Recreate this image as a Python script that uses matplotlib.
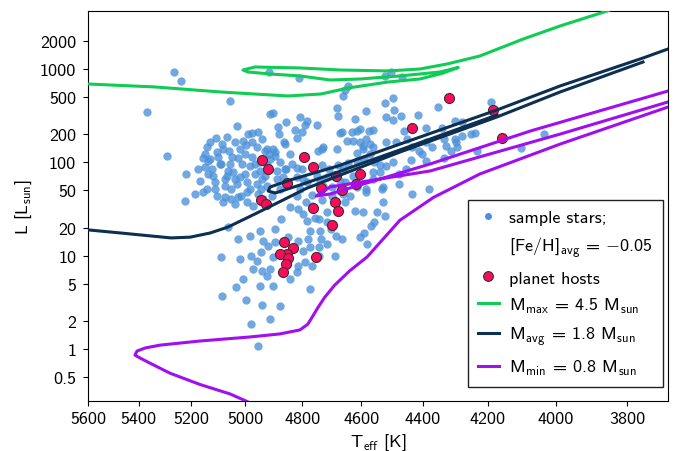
import numpy as np
import matplotlib
matplotlib.use('Agg')
import matplotlib.pyplot as plt
from matplotlib.lines import Line2D
from matplotlib.ticker import NullLocator

# sample stars: Teff [K] and log10(L/Lsun)
star_teff = [
    5264, 5237, 5367, 5056, 4916, 4812, 4662, 4646, 4656, 4682,
    4586, 4521, 4502, 4466, 4521, 4498, 4492, 4518, 4470, 4415,
    4352, 4191, 4913, 4902, 4808, 4679, 4622, 4498, 4300, 4279,
    4251, 4239, 4279, 4300, 4390, 4460, 4340, 4034, 4101, 5290,
    5218, 5222, 5030, 4977, 4955, 4885, 4857, 4784, 4750, 4791,
    4826, 4882, 4819, 5107, 5129, 5140, 5067, 5038, 5009, 4998,
    4977, 4959, 4930, 4902, 4916, 4895, 5081, 5103, 5060, 5002,
    4977, 5026, 5136, 5147, 5092, 5056, 5012, 4984, 4948, 4923,
    4878, 4857, 5118, 5067, 5045, 5002, 4966, 4930, 4888, 4888,
    4995, 5030, 5074, 5111, 5140, 4959, 4923, 4878, 5103, 5074,
    5026, 4995, 4955, 4906, 5081, 5038, 4995, 4973, 5155, 4819,
    4801, 4819, 4798, 4784, 4716, 4740, 4672, 4819, 4767, 4733,
    4767, 4699, 4747, 4730, 4801, 5111, 5136, 5052, 4944, 5038,
    5074, 4966, 5089, 5174, 5052, 5016, 5019, 4941, 4991, 5049,
    4948, 4913, 4861, 4843, 4836, 4868, 4941, 4984, 5019, 5063,
    5100, 5122, 5085, 5147, 5166, 5185, 4937, 4923, 4895, 4864,
    5129, 4733, 4665, 4632, 4616, 4606, 4576, 4563, 4649, 4629,
    4606, 4583, 4573, 4596, 4563, 4616, 4573, 4518, 4486, 4450,
    4434, 4403, 4371, 4390, 4328, 4312, 4861, 4733, 4709, 4679,
    4646, 4613, 4590, 4557, 4540, 4518, 4498, 4476, 4454, 4563,
    4629, 4656, 4672, 4750, 4808, 4730, 4586, 4530, 4476, 4434,
    4381, 4672, 4596, 4412, 4334, 4297, 4294, 4233, 4437, 4390,
    4334, 4533, 4682, 4788, 4784, 4757, 4716, 4656, 4622, 4596,
    4550, 4530, 4567, 4590, 4606, 4557, 4665, 4689, 4716, 4740,
    4774, 4798, 4767, 4774, 4791, 4580, 4521, 4583, 4639, 4662,
    4616, 4563, 4540, 4662, 4875, 4895, 4948, 4984, 5026, 5063,
    4815, 4702, 4686, 4737, 4781, 4743, 4815, 4850, 4895, 4920,
    4944, 4902, 4980, 5089, 4743, 4743, 4716, 5019, 4937, 4959,
    4973, 4941, 5009, 4913, 4923, 4948, 4902, 4843, 4819, 4815,
    4774, 4798, 4843, 4699, 5155, 5085, 4998, 4941, 4878, 4980,
    4913, 4955, 5035,
]
star_logl = [
    2.97, 2.87, 2.54, 2.66, 2.97, 2.90, 2.71, 2.82, 2.78, 2.58,
    2.55, 2.93, 2.97, 2.92, 2.64, 2.69, 2.56, 2.49, 2.50, 2.51,
    2.59, 2.65, 2.52, 2.53, 2.49, 2.50, 2.47, 2.45, 2.44, 2.43,
    2.30, 2.32, 2.28, 2.25, 2.37, 2.34, 2.37, 2.30, 2.15, 2.07,
    1.88, 1.59, 2.39, 2.32, 2.33, 2.38, 2.43, 2.44, 2.40, 2.40,
    2.35, 2.30, 2.26, 2.26, 2.22, 2.17, 2.27, 2.22, 2.23, 2.19,
    2.22, 2.17, 2.12, 2.14, 2.09, 2.07, 2.14, 2.11, 2.12, 2.09,
    2.06, 2.05, 2.01, 1.95, 1.98, 1.98, 1.98, 1.96, 2.00, 1.97,
    2.00, 1.93, 1.85, 1.85, 1.90, 1.88, 1.88, 1.85, 1.82, 1.91,
    1.79, 1.77, 1.75, 1.71, 1.71, 1.77, 1.75, 1.71, 1.64, 1.63,
    1.63, 1.68, 1.66, 1.64, 1.58, 1.55, 1.58, 1.53, 2.05, 1.94,
    1.93, 1.84, 1.82, 1.79, 1.84, 1.80, 1.80, 1.64, 1.65, 1.60,
    1.53, 1.64, 2.12, 2.17, 2.33, 1.79, 1.88, 1.71, 1.71, 1.82,
    1.82, 1.98, 1.98, 1.93, 1.61, 1.64, 2.14, 2.25, 2.30, 2.06,
    1.91, 2.04, 2.20, 2.09, 1.98, 1.84, 1.82, 1.71, 1.84, 1.91,
    2.06, 1.93, 2.20, 2.09, 1.80, 1.66, 1.61, 2.14, 2.11, 2.22,
    2.04, 2.14, 2.33, 2.33, 2.34, 2.36, 2.34, 2.35, 2.23, 2.23,
    2.22, 2.25, 2.20, 2.14, 2.17, 2.10, 2.09, 2.22, 2.22, 2.25,
    2.17, 2.09, 2.17, 2.22, 2.18, 2.12, 1.93, 1.97, 1.93, 1.97,
    1.99, 2.01, 2.04, 2.00, 1.97, 1.96, 2.00, 1.88, 1.93, 1.90,
    1.85, 1.79, 1.69, 1.85, 1.71, 1.75, 1.71, 1.74, 1.77, 1.66,
    1.71, 2.32, 2.18, 2.12, 2.25, 2.22, 2.17, 2.12, 2.03, 2.01,
    2.05, 1.71, 2.14, 1.58, 1.37, 1.40, 1.47, 1.58, 1.48, 1.47,
    1.47, 1.58, 1.32, 1.24, 1.20, 1.36, 1.18, 1.00, 1.13, 1.26,
    1.09, 1.05, 0.89, 0.64, 0.93, 1.13, 1.43, 1.68, 1.64, 1.66,
    1.74, 1.82, 1.90, 1.93, 1.39, 1.29, 1.26, 1.21, 1.18, 1.31,
    1.50, 1.29, 1.21, 1.18, 1.18, 1.09, 1.16, 1.20, 1.15, 1.10,
    1.04, 0.99, 1.00, 0.99, 1.00, 1.39, 1.36, 0.96, 1.16, 0.94,
    0.86, 0.84, 0.75, 0.86, 0.78, 0.68, 0.68, 0.75, 0.83, 0.89,
    1.26, 1.45, 1.52, 1.74, 1.68, 0.57, 0.53, 0.47, 0.46, 0.27,
    0.32, 0.03, 0.66,
]

# planet hosts
host_teff = [4318, 4434, 4158, 4185, 4941, 4794, 4920, 4764, 4603, 4686,
             4619, 4737, 4665, 4853, 4944, 4927, 4764, 4689, 4679, 4699,
             4864, 4833, 4853, 4878, 4850, 4857, 4868, 4753]
host_logl = [2.69, 2.37, 2.26, 2.56, 2.03, 2.06, 1.93, 1.95, 1.88, 1.85,
             1.77, 1.73, 1.70, 1.78, 1.60, 1.55, 1.51, 1.58, 1.48, 1.33,
             1.15, 1.08, 1.02, 1.02, 0.98, 0.91, 0.83, 0.99]

# evolutionary tracks
trk_max_teff = [5600, 5336, 5089, 4850, 4735, 4644, 4512, 4410, 4340, 4290,
                4347, 4474, 4604, 4705, 4807, 4912, 4991, 5009, 4966, 4807,
                4671, 4512, 4410, 4325, 4224, 4094, 3987, 3854, 3819]
trk_max_l = [692, 643, 568, 515, 541, 627, 727, 783, 900, 1040,
             931, 844, 783, 764, 844, 886, 931, 978, 1053, 1028,
             978, 955, 1002, 1134, 1381, 2101, 2897, 4195, 4745]

trk_avg_rgb_teff = [5600, 5469, 5355, 5275, 5203, 5129, 5063, 4966, 4873, 4790,
                    4678, 4474, 4172, 3987, 3756]
trk_avg_rgb_l = [18.9, 17.5, 16.3, 15.5, 15.8, 17.5, 20.3, 28.0, 38.6, 51.9,
                 71.5, 129, 307, 568, 1191]
trk_avg_hb_teff = [4172, 4474, 4678, 4807, 4894, 4919, 4912, 4842, 4678, 4474,
                   4172, 3987, 3756, 3689]
trk_avg_hb_l = [322, 136, 78.9, 57.3, 47.0, 49.3, 54.5, 64.7, 91.5, 157,
                365, 659, 1315, 1642]

trk_min_rgb_teff = [4990, 5056, 5166, 5279, 5355, 5394, 5414, 5406, 5374, 5317,
                    5166, 4984, 4878, 4808, 4781, 4764, 4747, 4723, 4689, 4639,
                    4581, 4474, 4368, 4224, 3987, 3689]
trk_min_rgb_l = [0.27, 0.330, 0.416, 0.55, 0.703, 0.80, 0.86, 0.95, 1.026, 1.10,
                 1.218, 1.345, 1.45, 1.60, 1.84, 2.24, 2.75, 3.58, 4.84, 6.87,
                 9.7, 24.0, 42.0, 75.1, 157, 392]
trk_min_hb_teff = [3689, 3987, 4378, 4705, 4752, 4705, 4378, 4073, 3689]
trk_min_hb_l = [444, 201, 80.9, 54.5, 43.6, 45.8, 96.1, 217, 582]

xticks = [5600, 5400, 5200, 5000, 4800, 4600, 4400, 4200, 4000, 3800]
yticks = [0.5, 1, 2, 5, 10, 20, 50, 100, 200, 500, 1000, 2000]
ytick_labels = ['0.5', '1', '2', '5', '10', '20', '50', '100', '200', '500', '1000', '2000']

c_star = '#4a90d9'
c_host = '#ff0a5a'
c_max = '#0fcc55'
c_avg = '#0c2f52'
c_min = '#a00ff0'

plt.rcParams['font.family'] = 'cmss10'
plt.rcParams['mathtext.fontset'] = 'custom'
plt.rcParams['mathtext.rm'] = 'cmss10'
plt.rcParams['mathtext.it'] = 'cmss10'
plt.rcParams['mathtext.bf'] = 'cmss10'
plt.rcParams['axes.unicode_minus'] = False
plt.rcParams['font.size'] = 13

fig = plt.figure(figsize=(6.76, 4.52), dpi=100)
ax = fig.add_axes([0.1302, 0.1106, 0.858, 0.8629])
ax.set_xscale('log')
ax.set_yscale('log')

ax.scatter(star_teff, 10 ** np.array(star_logl), s=36, color=c_star, alpha=0.78,
           linewidths=0, zorder=2)
ax.scatter(host_teff, 10 ** np.array(host_logl), s=52, color=c_host,
           edgecolors='#333333', linewidths=0.8, zorder=3)

lw = 2.2
ax.plot(trk_max_teff, trk_max_l, color=c_max, lw=lw, zorder=4)
ax.plot(trk_avg_rgb_teff, trk_avg_rgb_l, color=c_avg, lw=lw, zorder=4)
ax.plot(trk_avg_hb_teff, trk_avg_hb_l, color=c_avg, lw=lw, zorder=4)
ax.plot(trk_min_rgb_teff, trk_min_rgb_l, color=c_min, lw=lw, zorder=4)
ax.plot(trk_min_hb_teff, trk_min_hb_l, color=c_min, lw=lw, zorder=4)

ax.set_xlim(5600, 3689)
ax.set_ylim(0.277, 4195)
ax.set_xticks(xticks)
ax.set_xticklabels([str(t) for t in xticks])
ax.set_yticks(yticks)
ax.set_yticklabels(ytick_labels)
ax.xaxis.set_minor_locator(NullLocator())
ax.yaxis.set_minor_locator(NullLocator())
ax.tick_params(axis='y', pad=5)

ax.set_xlabel(r'T$_\mathrm{eff}$ [K]')
ax.set_ylabel(r'L [L$_\mathrm{sun}$]')

handles = [
    Line2D([], [], ls='none', marker='o', ms=5, color=c_star, mew=0),
    Line2D([], [], ls='none'),
    Line2D([], [], ls='none', marker='o', ms=7, color=c_host, mec='#333333', mew=0.8),
    Line2D([], [], color=c_max, lw=lw),
    Line2D([], [], color=c_avg, lw=lw),
    Line2D([], [], color=c_min, lw=lw),
]
labels = [
    'sample stars;',
    r'[Fe/H]$_\mathrm{avg}$ = $-$0.05',
    'planet hosts',
    r'M$_\mathrm{max}$ = 4.5 M$_\mathrm{sun}$',
    r'M$_\mathrm{avg}$ = 1.8 M$_\mathrm{sun}$',
    r'M$_\mathrm{min}$ = 0.8 M$_\mathrm{sun}$',
]
leg = ax.legend(handles, labels, loc='lower right', bbox_to_anchor=(0.9914, 0.0359),
                fancybox=False, framealpha=1, edgecolor='#222222',
                handlelength=1.2, labelspacing=0.55, borderpad=0.55,
                handletextpad=0.55, borderaxespad=0)
leg.get_frame().set_linewidth(1.0)

fig.savefig('out.png', dpi=100)
